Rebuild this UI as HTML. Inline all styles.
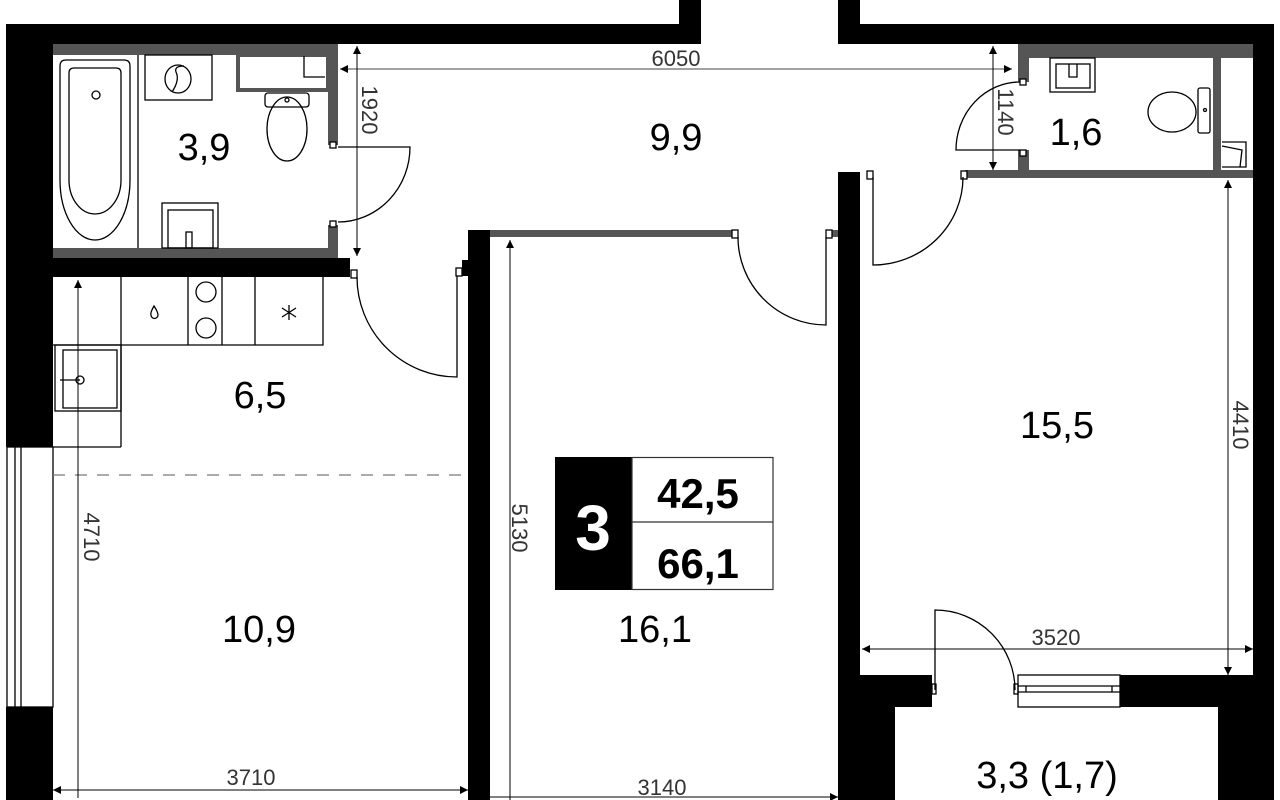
<!DOCTYPE html>
<html><head><meta charset="utf-8"><style>
html,body{margin:0;padding:0;background:#fff;width:1280px;height:800px;overflow:hidden}
svg{display:block}
text{font-family:"Liberation Sans",sans-serif}
</style></head><body>
<svg width="1280" height="800" viewBox="0 0 1280 800" xmlns="http://www.w3.org/2000/svg">
<defs>
<marker id="a" viewBox="0 0 10 10" refX="10" refY="5" markerWidth="14" markerHeight="8" orient="auto-start-reverse" markerUnits="userSpaceOnUse"><path d="M0,0L10,5L0,10z" fill="#000"/></marker>
</defs>
<g fill="#000">
<rect x="6" y="24" width="695" height="20"/>
<rect x="679" y="0" width="22" height="24"/>
<rect x="838" y="0" width="22" height="44"/>
<rect x="860" y="24" width="414" height="20"/>
<rect x="1253" y="24" width="21" height="651"/>
<rect x="6" y="24" width="47" height="423"/>
<rect x="6" y="707" width="47" height="93"/>
<rect x="53" y="258" width="297" height="19"/>
<rect x="468" y="230" width="22" height="570"/>
<rect x="462" y="260" width="6" height="16"/>
<rect x="838" y="172" width="22" height="628"/>
<rect x="860" y="675" width="72" height="32"/>
<rect x="838" y="675" width="57" height="125"/>
<rect x="1120" y="675" width="98" height="32"/>
<rect x="1218" y="675" width="56" height="125"/>
</g>
<g fill="#555">
<rect x="53" y="44" width="285" height="11"/>
<rect x="328" y="44" width="10" height="101"/>
<rect x="328" y="225" width="10" height="33"/>
<rect x="53" y="248" width="285" height="10"/>
<rect x="1018" y="44" width="235" height="14"/>
<rect x="1018" y="58" width="11" height="24"/>
<rect x="1018" y="150" width="11" height="20"/>
<rect x="965" y="170" width="288" height="8"/>
<rect x="1213" y="58" width="8" height="112"/>
<rect x="490" y="230" width="245" height="7"/>
<rect x="829" y="230" width="9" height="7"/>
</g>
<g fill="none" stroke="#000" stroke-width="1.3">
<rect x="330" y="142" width="6" height="6" fill="#fff"/>
<rect x="330" y="221" width="6" height="6" fill="#fff"/>
<rect x="351" y="270" width="6" height="8" fill="#fff"/>
<rect x="456" y="268" width="6" height="8" fill="#fff"/>
<rect x="1020" y="79" width="6" height="6" fill="#fff"/>
<rect x="1020" y="150" width="6" height="6" fill="#fff"/>
<rect x="867" y="171" width="6" height="8" fill="#fff"/>
<rect x="961" y="171" width="6" height="8" fill="#fff"/>
<rect x="732" y="230" width="6" height="8" fill="#fff"/>
<rect x="826" y="230" width="6" height="8" fill="#fff"/>
<path d="M338 147 H410 A72 75 0 0 1 338 222"/>
<path d="M357 277 A100 100 0 0 0 457 377 V276"/>
<path d="M1020 150 H956 A64 68 0 0 1 1020 82"/>
<path d="M963 177 A90 88 0 0 1 873 265 V177"/>
<path d="M738 237 A88 88 0 0 0 826 325 V237"/>
<path d="M935 690 V610 A80 80 0 0 1 1015 690"/>
<path d="M60 66 Q60 60 66 60 H124 Q130 60 130 66 V180 A35 60 0 0 1 60 180 Z"/>
<path d="M69 73 Q69 68 74 68 H116 Q121 68 121 73 V180 A26 34 0 0 1 69 180 Z"/>
<circle cx="96" cy="95" r="4"/>
<line x1="138" y1="55" x2="138" y2="248"/>
<rect x="145" y="55" width="67" height="45"/>
<ellipse cx="178" cy="79" rx="13" ry="14"/>
<path d="M172 92 Q180 80 176 72 Q174 66 184 66"/>
<rect x="238" y="55" width="90" height="35" stroke="#555" stroke-width="4"/>
<path d="M304 56 V77 H325"/>
<rect x="265" y="93" width="44" height="14" rx="3"/>
<ellipse cx="287" cy="129" rx="20" ry="32"/>
<circle cx="287" cy="100" r="2"/>
<rect x="162" y="203" width="56" height="45"/>
<rect x="168" y="210" width="45" height="38"/>
<rect x="186" y="232" width="6" height="16"/>
<path d="M53 345 H323 V277"/>
<line x1="121" y1="277" x2="121" y2="447"/>
<line x1="188" y1="277" x2="188" y2="345"/>
<line x1="222" y1="277" x2="222" y2="345"/>
<line x1="255" y1="277" x2="255" y2="345"/>
<path d="M154 306 Q150 313 151 315 A3.5 3.5 0 0 0 158 315 Q158 312 154 306 Z"/>
<circle cx="206" cy="292" r="10"/>
<circle cx="206" cy="328" r="10"/>
<path d="M289 305 V320 M282 308 L296 317 M296 308 L282 317"/>
<rect x="55" y="345" width="66" height="66"/>
<rect x="63" y="350" width="54" height="58"/>
<line x1="53" y1="447" x2="121" y2="447"/>
<line x1="60" y1="380" x2="80" y2="380"/>
<circle cx="80" cy="380" r="4"/>
<rect x="7" y="447" width="46" height="260"/>
<line x1="15" y1="447" x2="15" y2="707"/>
<line x1="21" y1="447" x2="21" y2="707"/>
<rect x="1050" y="58" width="45" height="34"/>
<rect x="1056" y="64" width="34" height="24"/>
<path d="M1069 64 V77 H1077 V64"/>
<rect x="1198" y="88" width="12" height="45" rx="2"/>
<ellipse cx="1172" cy="112" rx="24" ry="20"/>
<circle cx="1205" cy="110" r="1.5"/>
<path d="M1222 142 H1246 V167 H1222"/>
<path d="M1222 146 L1242 150 L1240 167"/>
<rect x="1018" y="675" width="102" height="32"/>
<line x1="1018" y1="686" x2="1120" y2="686"/>
<line x1="1018" y1="692" x2="1120" y2="692"/>
<line x1="1026" y1="686" x2="1026" y2="692"/>
<line x1="1112" y1="686" x2="1112" y2="692"/>
<rect x="932" y="684" width="4" height="10"/>
<rect x="1014" y="684" width="4" height="10"/>
</g>
<line x1="53" y1="475" x2="468" y2="475" stroke="#777" stroke-width="1.3" stroke-dasharray="12,10"/>
<g stroke="#000" stroke-width="1" fill="none">
<line x1="340" y1="69" x2="1012" y2="69" marker-start="url(#a)" marker-end="url(#a)" stroke="#444"/>
<line x1="357" y1="46" x2="357" y2="256" marker-start="url(#a)" marker-end="url(#a)"/>
<line x1="993" y1="46" x2="993" y2="170" marker-start="url(#a)" marker-end="url(#a)"/>
<line x1="78" y1="280" x2="78" y2="798" marker-start="url(#a)"/>
<line x1="53" y1="790" x2="468" y2="790" marker-start="url(#a)" marker-end="url(#a)"/>
<line x1="510" y1="240" x2="510" y2="800" marker-start="url(#a)"/>
<line x1="490" y1="797" x2="838" y2="797" marker-end="url(#a)"/>
<line x1="1228" y1="180" x2="1228" y2="675" marker-start="url(#a)" marker-end="url(#a)"/>
<line x1="862" y1="649" x2="1253" y2="649" marker-start="url(#a)" marker-end="url(#a)"/>
</g>
<g fill="#333" font-size="22">
<text x="676" y="66" text-anchor="middle">6050</text>
<text x="251" y="785" text-anchor="middle">3710</text>
<text x="662" y="795" text-anchor="middle">3140</text>
<text x="1056" y="645" text-anchor="middle">3520</text>
<text transform="translate(362,110) rotate(90)" text-anchor="middle">1920</text>
<text transform="translate(998,112) rotate(90)" text-anchor="middle">1140</text>
<text transform="translate(84,537) rotate(90)" text-anchor="middle">4710</text>
<text transform="translate(512,528) rotate(90)" text-anchor="middle">5130</text>
<text transform="translate(1233,425) rotate(90)" text-anchor="middle">4410</text>
</g>
<g fill="#000" font-size="38" text-anchor="middle">
<text x="204" y="160">3,9</text>
<text x="676" y="150">9,9</text>
<text x="1076" y="145">1,6</text>
<text x="260" y="408">6,5</text>
<text x="259" y="642">10,9</text>
<text x="655" y="642">16,1</text>
<text x="1057" y="438">15,5</text>
<text x="1047" y="788">3,3 (1,7)</text>
</g>
<rect x="555" y="457" width="77" height="133" fill="#000"/>
<rect x="632" y="457.5" width="141" height="132" fill="#fff" stroke="#333" stroke-width="1.2"/>
<line x1="632" y1="522" x2="773" y2="522" stroke="#333" stroke-width="1.2"/>
<text x="593" y="550" fill="#fff" font-size="64" font-weight="bold" text-anchor="middle">3</text>
<text x="698" y="508" fill="#000" font-size="42" font-weight="bold" text-anchor="middle">42,5</text>
<text x="698" y="578" fill="#000" font-size="42" font-weight="bold" text-anchor="middle">66,1</text>
</svg>
</body></html>
